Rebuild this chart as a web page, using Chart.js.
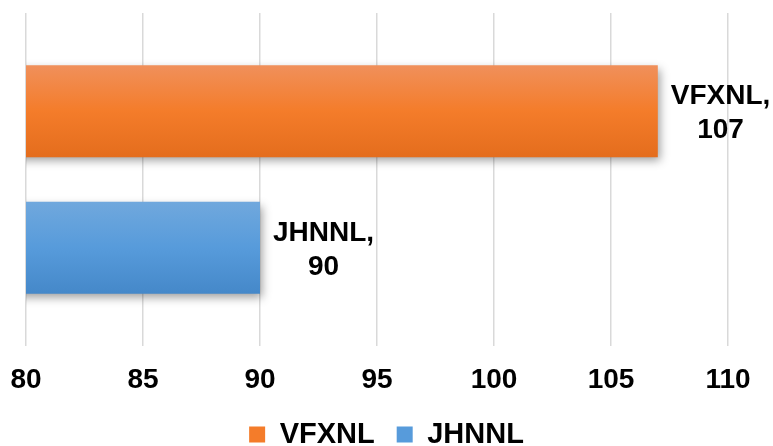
<!DOCTYPE html>
<html>
<head>
<meta charset="utf-8">
<script src="https://cdn.jsdelivr.net/npm/chart.js@4/dist/chart.umd.min.js"></script>
<style>
  html, body { margin: 0; padding: 0; background: #fff; }
  #wrap { width: 773px; height: 446px; }
</style>
</head>
<body>
<div id="wrap"><canvas id="chart" width="773" height="446"></canvas></div>
<script>
const seriesNames = ['VFXNL', 'JHNNL']
const seriesValues = [107, 90]
const categories = ['']
const xTicks = { min: 80, max: 110, step: 5 }

const FONT = 'Liberation Sans, Arial, sans-serif'
const CAT_PCT = 0.82
const BAR_PCT = 0.675

// top / middle / bottom colours for each bar
const palettes = [
  ['#f0905b', '#f47c2a', '#e46d1d'],
  ['#70a8dd', '#579bdb', '#4588c9']
]

// vertical gradient matching the slot the bar occupies on the y scale
function barGradient (context) {
  const chart = context.chart
  const y = chart.scales.y
  const pal = palettes[context.datasetIndex]
  if (!y || !chart.chartArea) return pal[1]
  const n = chart.data.datasets.length
  const center = y.getPixelForValue(context.dataIndex)
  const slot = y.height / categories.length * CAT_PCT / n
  const mid = center + (context.datasetIndex - (n - 1) / 2) * slot
  const half = slot * BAR_PCT / 2
  const g = chart.ctx.createLinearGradient(0, mid - half, 0, mid + half)
  g.addColorStop(0, pal[0])
  g.addColorStop(0.5, pal[1])
  g.addColorStop(1, pal[2])
  return g
}

const barShadow = {
  id: 'barShadow',
  beforeDatasetsDraw (chart) {
    const ctx = chart.ctx
    ctx.save()
    ctx.shadowColor = 'rgba(0, 0, 0, 0.38)'
    ctx.shadowBlur = 9
    ctx.shadowOffsetX = 2
    ctx.shadowOffsetY = 4
  },
  afterDatasetsDraw (chart) {
    chart.ctx.restore()
  }
}

// keep the legend centred on the whole canvas, not the padded box
const legendShift = {
  id: 'legendShift',
  afterLayout (chart) {
    const l = chart.legend
    if (!l) return
    const dx = chart.width / 2 - (l.left + l.right) / 2
    l.left += dx
    l.right += dx
  }
}

// "name,\nvalue" label to the right of each bar
const barLabels = {
  id: 'barLabels',
  afterDatasetsDraw (chart) {
    const ctx = chart.ctx
    ctx.save()
    ctx.font = 'bold 28px ' + FONT
    ctx.fillStyle = '#000'
    ctx.textAlign = 'center'
    ctx.textBaseline = 'alphabetic'
    chart.data.datasets.forEach((ds, i) => {
      chart.getDatasetMeta(i).data.forEach((bar, j) => {
        const lines = [ds.label + ',', String(ds.data[j])]
        const w = Math.max(...lines.map(t => ctx.measureText(t).width))
        const cx = bar.x + 13 + w / 2
        ctx.fillText(lines[0], cx, bar.y - 7)
        ctx.fillText(lines[1], cx, bar.y + 27)
      })
    })
    ctx.restore()
  }
}

new Chart(document.getElementById('chart'), {
  type: 'bar',
  data: {
    labels: categories,
    datasets: seriesNames.map((name, i) => ({
      label: name,
      data: [seriesValues[i]],
      backgroundColor: barGradient,
      borderWidth: 0,
      categoryPercentage: CAT_PCT,
      barPercentage: BAR_PCT
    }))
  },
  options: {
    indexAxis: 'y',
    responsive: false,
    animation: false,
    layout: { padding: { left: 26, right: 45, top: 13, bottom: -13 } },
    scales: {
      x: {
        min: xTicks.min,
        max: xTicks.max,
        border: { display: false },
        grid: {
          color: '#d9d9d9',
          lineWidth: 1.5,
          drawTicks: true,
          tickLength: 15,
          tickColor: 'rgba(0, 0, 0, 0)'
        },
        ticks: {
          stepSize: xTicks.step,
          padding: 2,
          color: '#000',
          font: { family: FONT, size: 28, weight: 'bold' }
        },
        afterFit (scale) {
          scale.height = 52
        }
      },
      y: {
        display: false
      }
    },
    plugins: {
      tooltip: { enabled: false },
      legend: {
        position: 'bottom',
        labels: {
          boxWidth: 16,
          boxHeight: 16,
          padding: 22,
          color: '#000',
          font: { family: FONT, size: 29, weight: 'bold' },
          generateLabels (chart) {
            return chart.data.datasets.map((ds, i) => ({
              text: ds.label,
              fillStyle: palettes[i][1],
              strokeStyle: palettes[i][1],
              lineWidth: 0,
              datasetIndex: i
            }))
          }
        }
      }
    }
  },
  plugins: [barShadow, legendShift, barLabels]
})
</script>
</body>
</html>
